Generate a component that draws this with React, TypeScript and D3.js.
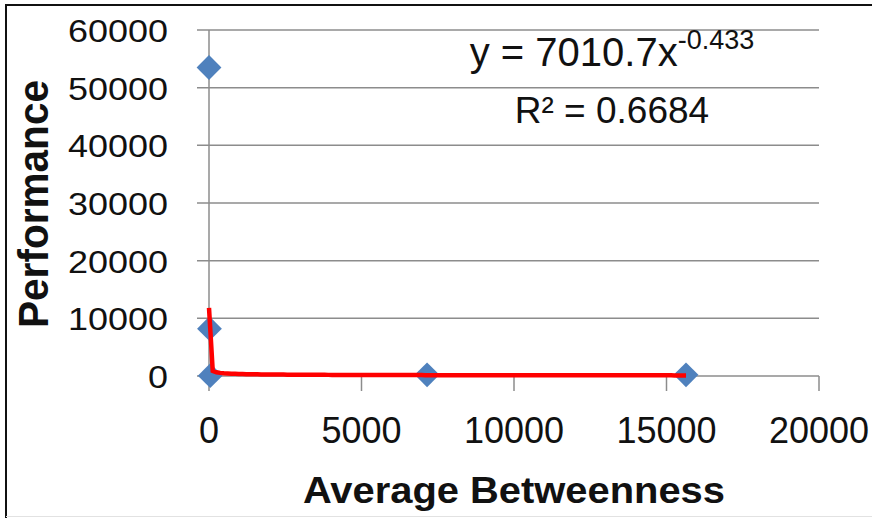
import React, { useEffect, useRef } from "react";
import * as d3 from "d3";

const xValues = [0.3, 15, 40, 7150, 15640];
const yValues = [53500, 8200, 50, 200, 200];
const xTicks = [0, 5000, 10000, 15000, 20000];
const yTicks = [0, 10000, 20000, 30000, 40000, 50000, 60000];
const trendCoef = 7010.7;
const trendExp = -0.433;
const xTitle = "Average Betweenness";
const yTitle = "Performance";
const eqText = "y = 7010.7x";
const eqSup = "-0.433";
const r2Text = "0.6684";

const W = 872;
const H = 518;

export default function App() {
  const ref = useRef<SVGSVGElement | null>(null);

  useEffect(() => {
    const svg = d3.select(ref.current);
    svg.selectAll("*").remove();
    const font = "'Liberation Sans', Arial, sans-serif";

    const x = d3.scaleLinear().domain([0, 20000]).range([209, 819]);
    const y = d3.scaleLinear().domain([0, 60000]).range([376, 30]);

    svg.append("rect").attr("width", W).attr("height", H).attr("fill", "#fff");

    // border
    svg.append("line").attr("x1", 6).attr("x2", 6).attr("y1", 5).attr("y2", H).attr("stroke", "#111").attr("stroke-width", 2);
    svg.append("line").attr("x1", 5).attr("x2", W).attr("y1", 5).attr("y2", 5).attr("stroke", "#111").attr("stroke-width", 2);
    svg.append("line").attr("x1", 6).attr("x2", W).attr("y1", 516.5).attr("y2", 516.5).attr("stroke", "#e2e2e2").attr("stroke-width", 1);

    const grid = "#8c8c8c";
    svg.append("g").selectAll("line").data(yTicks).join("line")
      .attr("x1", 197).attr("x2", 819)
      .attr("y1", (d) => y(d)).attr("y2", (d) => y(d))
      .attr("stroke", grid).attr("stroke-width", 1.5);
    svg.append("line").attr("x1", x(0)).attr("x2", x(0)).attr("y1", y(60000)).attr("y2", y(0)).attr("stroke", grid).attr("stroke-width", 1.5);
    svg.append("g").selectAll("line").data(xTicks).join("line")
      .attr("x1", (d) => x(d)).attr("x2", (d) => x(d))
      .attr("y1", y(0)).attr("y2", y(0) + 15)
      .attr("stroke", grid).attr("stroke-width", 1.5);

    svg.append("g").selectAll("text").data(yTicks).join("text")
      .attr("x", 168).attr("y", (d) => y(d) + 12)
      .attr("text-anchor", "end")
      .attr("font-family", font).attr("font-size", 31).attr("fill", "#111")
      .attr("textLength", (d) => String(d).length * 20)
      .attr("lengthAdjust", "spacingAndGlyphs")
      .text((d) => String(d));

    svg.append("g").selectAll("text").data(xTicks).join("text")
      .attr("x", (d) => x(d)).attr("y", 443)
      .attr("text-anchor", "middle")
      .attr("font-family", font).attr("font-size", 36).attr("fill", "#111")
      .text((d) => String(d));

    const pts = xValues.map((v, i) => [v, yValues[i]] as [number, number]);
    const sym = d3.symbol().type(d3.symbolDiamond2).size(2 * 14 * 14);
    svg.append("g").selectAll("path").data(pts).join("path")
      .attr("transform", (d) => `translate(${x(d[0])},${y(d[1])})`)
      .attr("d", sym as any)
      .attr("fill", "#4F81BD");

    // trendline sampled linearly across the data range
    const minX = d3.min(xValues) as number;
    const maxX = d3.max(xValues) as number;
    const samples: [number, number][] = [];
    const n = 128;
    for (let i = 0; i <= n; i++) {
      const xv = minX + (maxX - minX) * (i / n);
      samples.push([xv, trendCoef * Math.pow(xv, trendExp)]);
    }
    const line = d3.line<[number, number]>().x((d) => x(d[0])).y((d) => y(d[1]));
    svg.append("path").attr("d", line(samples) as string)
      .attr("fill", "none").attr("stroke", "#FF0000").attr("stroke-width", 4.5)
      .attr("stroke-linejoin", "miter");

    const eq = svg.append("text").attr("x", 612).attr("y", 66).attr("text-anchor", "middle")
      .attr("font-family", font).attr("font-size", 40).attr("fill", "#111");
    eq.append("tspan").text(eqText);
    eq.append("tspan").attr("font-size", 27).attr("dy", -17).text(eqSup);

    const r2 = svg.append("text").attr("x", 612).attr("y", 123).attr("text-anchor", "middle")
      .attr("font-family", font).attr("font-size", 37).attr("fill", "#111");
    r2.append("tspan").text("R²");
    r2.append("tspan").text(" = " + r2Text);

    svg.append("text").attr("x", 514).attr("y", 503).attr("text-anchor", "middle")
      .attr("font-family", font).attr("font-weight", "bold").attr("font-size", 36).attr("fill", "#111")
      .attr("textLength", 422).attr("lengthAdjust", "spacingAndGlyphs")
      .text(xTitle);

    svg.append("text").attr("transform", "translate(48,204) rotate(-90)").attr("text-anchor", "middle")
      .attr("font-family", font).attr("font-weight", "bold").attr("font-size", 42).attr("fill", "#111")
      .attr("textLength", 248).attr("lengthAdjust", "spacingAndGlyphs")
      .text(yTitle);
  }, []);

  return (
    <svg ref={ref} width={W} height={H} style={{ position: "absolute", left: 0, top: 0, display: "block" }} />
  );
}
